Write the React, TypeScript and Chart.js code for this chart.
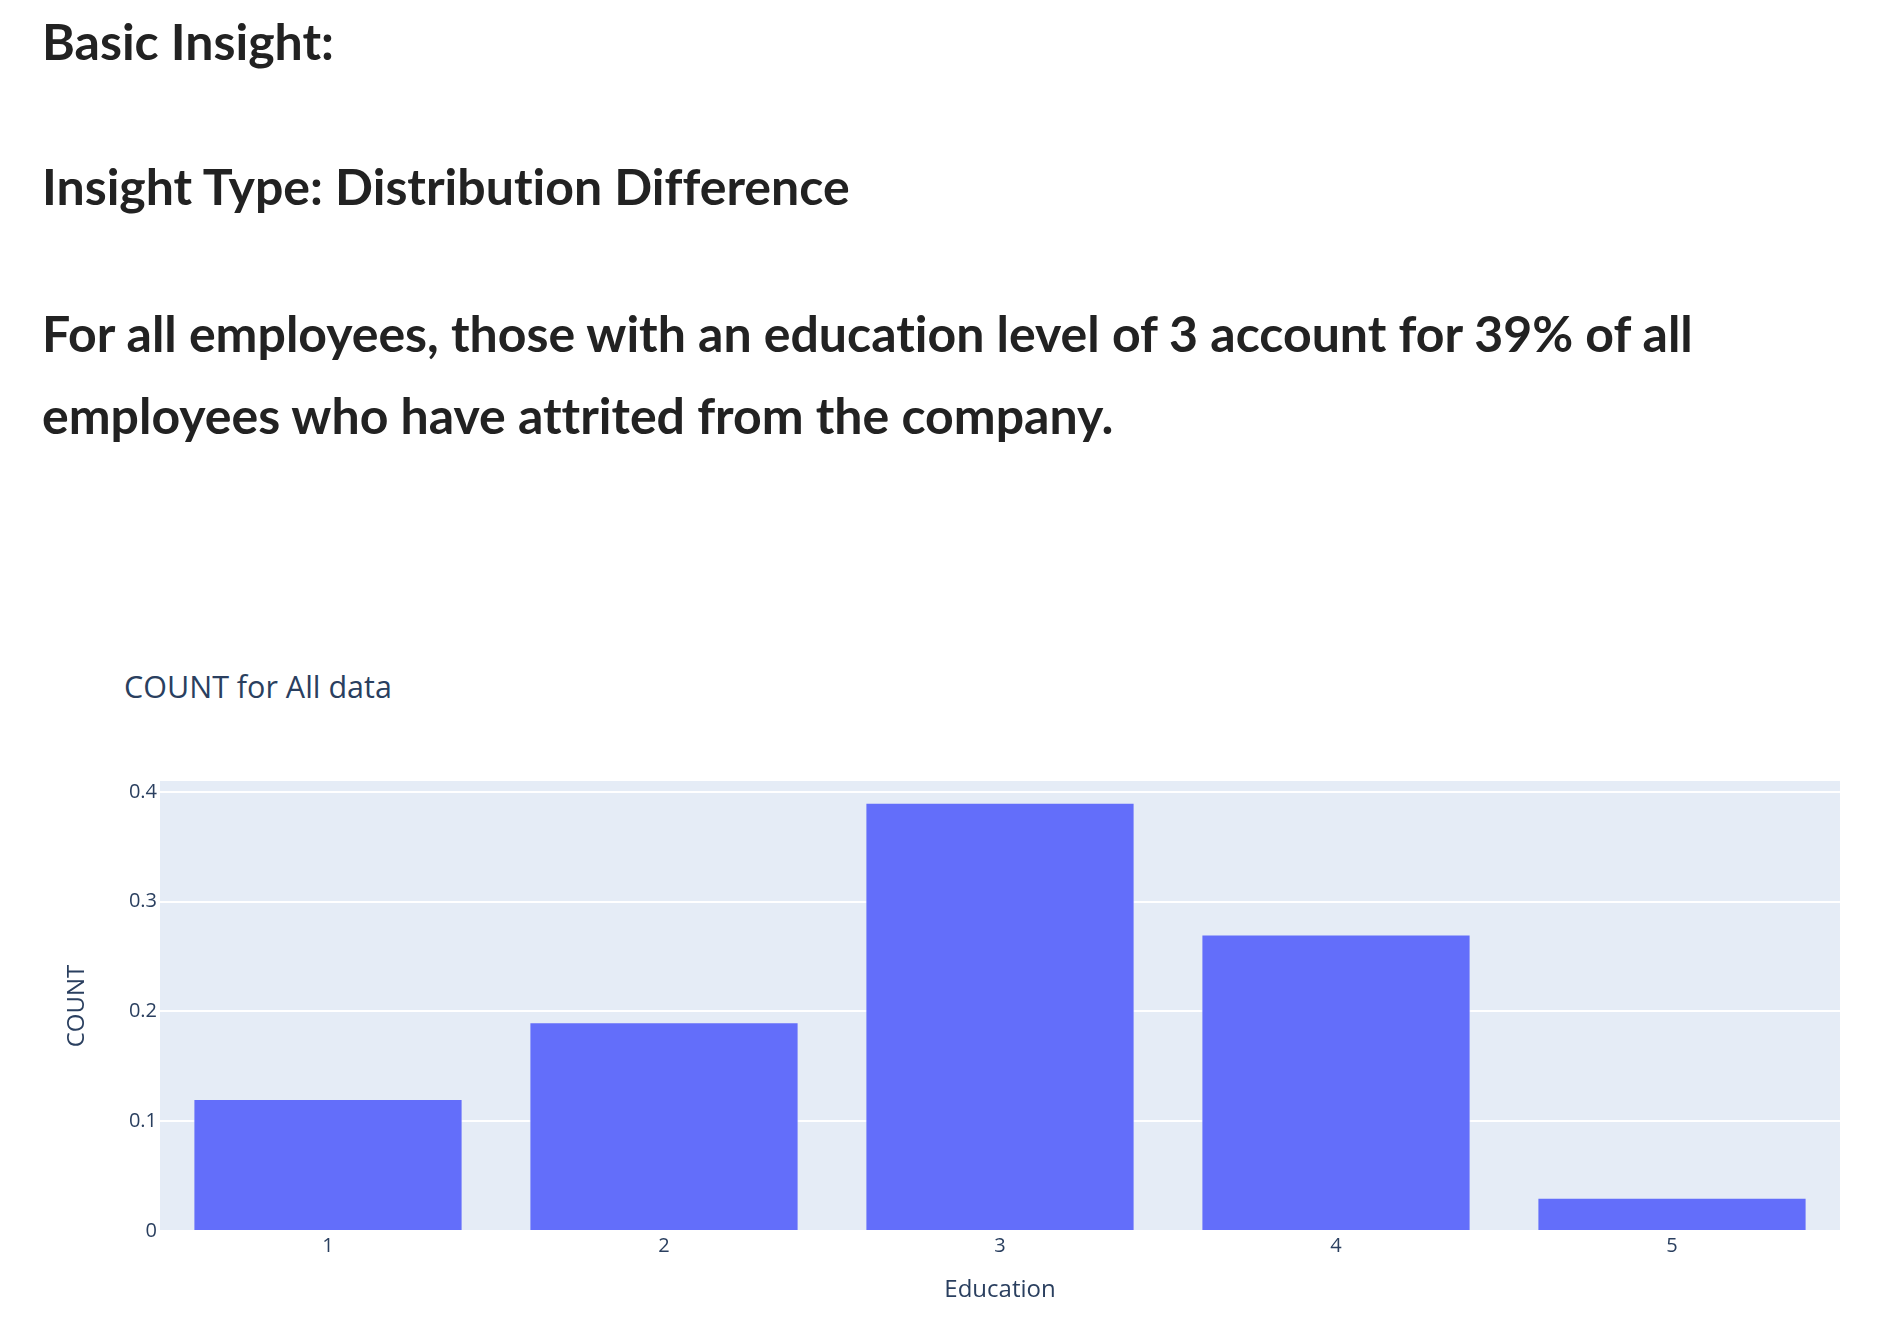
import React, { useEffect, useRef } from "react";
import { Chart, registerables } from "chart.js";

Chart.register(...registerables);

const categories = ["1", "2", "3", "4", "5"];
const countValues = [0.12, 0.19, 0.39, 0.27, 0.03];
const yTickValues = [0, 0.1, 0.2, 0.3, 0.4];
const yTickLabels = ["0", "0.1", "0.2", "0.3", "0.4"];
const yMax = 0.41;

const chartTitle = "COUNT for All data";
const xAxisTitle = "Education";
const yAxisTitle = "COUNT";

const PLOT_BG = "#E5ECF6";
const BAR_COLOR = "#636EFA";
const FONT_COLOR = "#2a3f5f";
const PLOTLY_FONT = '"Open Sans", verdana, arial, sans-serif';

const plotBgPlugin = {
  id: "plotBg",
  beforeDraw(chart: any) {
    const { ctx, chartArea } = chart;
    if (!chartArea) return;
    ctx.save();
    ctx.fillStyle = PLOT_BG;
    ctx.fillRect(chartArea.left, chartArea.top, chartArea.right - chartArea.left, chartArea.bottom - chartArea.top);
    ctx.restore();
  },
};

function BarChart() {
  const ref = useRef<HTMLCanvasElement | null>(null);
  useEffect(() => {
    if (!ref.current) return;
    const chart = new Chart(ref.current, {
      type: "bar",
      data: {
        labels: categories,
        datasets: [
          {
            label: "COUNT",
            data: countValues,
            backgroundColor: BAR_COLOR,
            borderColor: PLOT_BG,
            borderWidth: 0.8,
            barPercentage: 0.8,
            categoryPercentage: 1.0,
          },
        ],
      },
      options: {
        animation: false,
        responsive: false,
        maintainAspectRatio: false,
        layout: { padding: { top: 41, left: 0, right: 64, bottom: 0 } },
        plugins: {
          legend: { display: false },
          tooltip: { enabled: false },
          title: { display: false },
        },
        scales: {
          x: {
            type: "category",
            grid: { display: false, drawTicks: false },
            border: { display: false },
            ticks: {
              padding: 3,
              color: FONT_COLOR,
              font: { family: PLOTLY_FONT, size: 20 },
              maxRotation: 0,
            },
            title: {
              display: true,
              text: xAxisTitle,
              color: FONT_COLOR,
              font: { family: PLOTLY_FONT, size: 24 },
              padding: { top: 0, bottom: 19 },
            },
            afterFit(scale: any) {
              scale.height = 93;
            },
          },
          y: {
            type: "linear",
            min: 0,
            max: yMax,
            grid: { color: "#ffffff", lineWidth: 2, drawTicks: false },
            border: { display: false },
            afterBuildTicks(scale: any) {
              scale.ticks = yTickValues.map((v) => ({ value: v }));
            },
            ticks: {
              padding: 3,
              color: FONT_COLOR,
              font: { family: PLOTLY_FONT, size: 20 },
              callback: (v: any) => {
                const i = yTickValues.findIndex((t) => Math.abs(t - Number(v)) < 1e-9);
                return i >= 0 ? yTickLabels[i] : "";
              },
            },
            title: {
              display: true,
              text: yAxisTitle,
              color: FONT_COLOR,
              font: { family: PLOTLY_FONT, size: 24 },
              padding: { top: 63, bottom: 0 },
            },
            afterFit(scale: any) {
              scale.width = 160;
            },
          },
        },
      },
      plugins: [plotBgPlugin],
    });
    return () => chart.destroy();
  }, []);
  return <canvas ref={ref} width={1904} height={584} style={{ position: "absolute", left: 0, top: 740, width: 1904, height: 584 }} />;
}

export default function App() {
  const FS = 50;
  const headStyle: React.CSSProperties = {
    position: "absolute",
    left: 42,
    fontFamily: "Lato, sans-serif",
    fontWeight: 700,
    fontSize: FS,
    color: "#222222",
    whiteSpace: "nowrap",
    margin: 0,
    fontVariantLigatures: "none",
  };
  const lh1 = FS * 1.2;
  return (
    <div style={{ position: "absolute", left: 0, top: 0, width: 1904, height: 1324, overflow: "hidden", background: "#ffffff" }}>
      <div style={{ ...headStyle, top: 60 - 0.987 * FS, lineHeight: `${lh1}px` }}>Basic Insight:</div>
      <div style={{ ...headStyle, top: 205 - 0.987 * FS, lineHeight: `${lh1}px` }}>Insight Type: Distribution Difference</div>
      <div style={{ ...headStyle, top: 352 - 0.987 * FS - (82 - lh1) / 2, lineHeight: "82px" }}>
        For all employees, those with an education level of 3 account for 39% of all
        <br />
        employees who have attrited from the company.
      </div>
      <div
        style={{
          position: "absolute",
          left: 124,
          top: 697 - 30.5 * 1.069 + 7,
          fontFamily: PLOTLY_FONT,
          fontSize: 30.5,
          lineHeight: 1,
          color: FONT_COLOR,
          whiteSpace: "nowrap",
        }}
      >
        {chartTitle}
      </div>
      <BarChart />
    </div>
  );
}
